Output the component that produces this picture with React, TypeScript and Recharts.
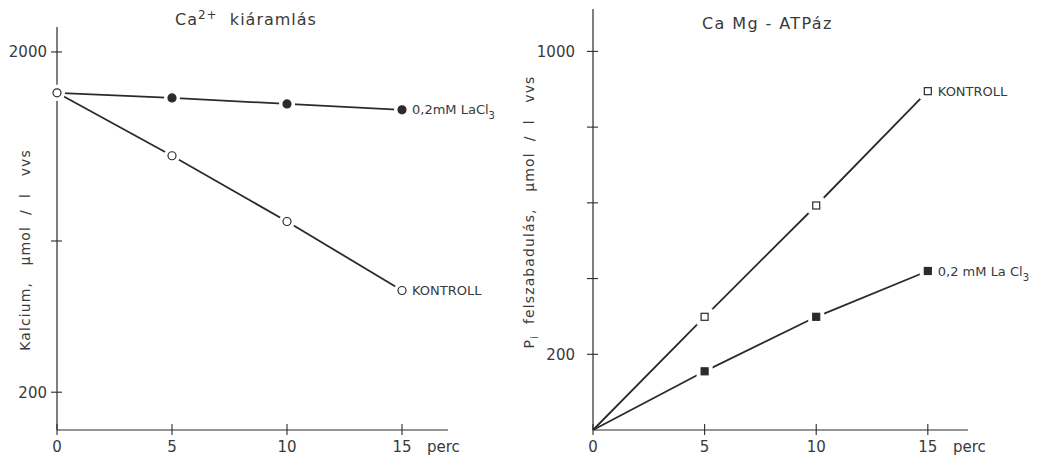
import React from "react";
import { LineChart, Line, XAxis, YAxis, LabelList, Label } from "recharts";

const minutes = [0, 5, 10, 15];
const caLaCl3 = [1784, 1757, 1725, 1694];
const caKontroll = [1784, 1451, 1103, 738];
const atpKontroll = [0, 299, 593, 895];
const atpLaCl3 = [0, 155, 299, 420];

const xTicks = [0, 5, 10, 15];
const caTicks = [200, 1000, 2000];
const caTickLabels: Record<number, string> = { 200: "200", 1000: "", 2000: "2000" };
const atpTicks = [200, 400, 600, 800, 1000];
const atpTickLabels: Record<number, string> = { 200: "200", 1000: "1000" };

const INK = "#2b2b2b";
const TEXT = "#3a3a3a";
const FONT = "'DejaVu Sans', sans-serif";

const caData = minutes.map((m, i) => ({ m, lacl3: caLaCl3[i], kontroll: caKontroll[i] }));
const atpData = minutes.map((m, i) => ({ m, kontroll: atpKontroll[i], lacl3: atpLaCl3[i] }));

const X_MARGIN = 11;

function XTick(props: any) {
  const { x, y, payload } = props;
  const axisY = y - X_MARGIN;
  return (
    <g>
      <line x1={x} x2={x} y1={axisY - 6} y2={axisY + 5} stroke={INK} strokeWidth={1.1} />
      <text x={x} y={y} dy="0.75em" textAnchor="middle" fontSize={15} fill={TEXT} fontFamily={FONT}>
        {payload.value}
      </text>
    </g>
  );
}

function makeYTick(labels: Record<number, string>, gap: number) {
  return function YTick(props: any) {
    const { x, y, payload } = props;
    const axisX = x + 2;
    const lbl = labels[payload.value] ?? "";
    return (
      <g>
        <line x1={axisX - 6} x2={axisX + 5} y1={y} y2={y} stroke={INK} strokeWidth={1.1} />
        {lbl && (
          <text x={axisX - gap} y={y} dy="0.36em" textAnchor="end" fontSize={15} fill={TEXT} fontFamily={FONT}>
            {lbl}
          </text>
        )}
      </g>
    );
  };
}

function Marker(props: any) {
  const { cx, cy, index, kind, skipFirst } = props;
  if (cx == null || cy == null) return <g key={`k-${index}`} />;
  if (skipFirst && index === 0) return <g key={`k-${index}`} />;
  const k = index === 0 && kind === "filled" ? "open" : kind;
  return (
    <g key={`k-${index}`}>
      {k === "open" || k === "filled" ? (
        <>
          <circle cx={cx} cy={cy} r={8} fill="#fff" />
          <circle cx={cx} cy={cy} r={4} fill={k === "filled" ? INK : "#fff"} stroke={INK} strokeWidth={1.2} />
        </>
      ) : (
        <>
          <rect x={cx - 8} y={cy - 8} width={16} height={16} fill="#fff" />
          <rect
            x={cx - 3.5}
            y={cy - 3.5}
            width={7}
            height={7}
            fill={k === "square-filled" ? INK : "#fff"}
            stroke={INK}
            strokeWidth={1.2}
          />
        </>
      )}
    </g>
  );
}

function endLabel(last: number, text: React.ReactNode, dx: number) {
  return (p: any) => {
    if (p.index !== last) return null;
    return (
      <text x={p.x + dx} y={p.y} dy="0.36em" fontSize={13} fill={TEXT} fontFamily={FONT}>
        {text}
      </text>
    );
  };
}

function yLabel(cx: number, cy: number, content: React.ReactNode) {
  return () => (
    <text
      x={cx}
      y={cy}
      transform={`rotate(-90, ${cx}, ${cy})`}
      textAnchor="middle"
      fontSize={14}
      letterSpacing={1.1}
      fill={TEXT}
      fontFamily={FONT}
      style={{ whiteSpace: "pre" }}
    >
      {content}
    </text>
  );
}

function percLabel(offset: number) {
  return (p: any) => {
    const vb = p.viewBox;
    return (
      <text x={vb.x + vb.width + offset} y={vb.y + X_MARGIN} dy="0.75em" fontSize={15} fill={TEXT} fontFamily={FONT}>
        perc
      </text>
    );
  };
}

export default function App() {
  return (
    <div style={{ position: "absolute", left: 0, top: 0, width: 1051, height: 462, background: "#fff", fontFamily: FONT }}>
      <div style={{ position: "absolute", left: 175, top: 8, fontSize: 16, color: TEXT, letterSpacing: 1, whiteSpace: "pre" }}>
        Ca<sup style={{ fontSize: 12 }}>2+</sup>  kiáramlás
      </div>
      <div style={{ position: "absolute", left: 702, top: 14, fontSize: 16, color: TEXT, letterSpacing: 1.4, whiteSpace: "pre" }}>
        Ca Mg - ATPáz
      </div>

      <div style={{ position: "absolute", left: 0, top: 0 }}>
        <LineChart width={520} height={462} data={caData} margin={{ left: 0, right: 72, top: 27, bottom: 0 }}>
          <XAxis
            dataKey="m"
            type="number"
            domain={[0, 17]}
            ticks={xTicks}
            tickSize={0}
            tickMargin={X_MARGIN}
            tick={<XTick />}
            axisLine={{ stroke: INK, strokeWidth: 1.2 }}
            tickLine={false}
            height={32}
          >
            <Label content={percLabel(-21)} />
          </XAxis>
          <YAxis
            type="number"
            domain={[0, 2132]}
            ticks={caTicks}
            tickSize={0}
            tickMargin={2}
            tick={makeYTick(caTickLabels, 10)}
            axisLine={{ stroke: INK, strokeWidth: 1.2 }}
            tickLine={false}
            width={57}
          >
            <Label
              content={yLabel(30, 250, <tspan>{"Kalcium,   μmol  /  l   vvs"}</tspan>)}
            />
          </YAxis>
          <Line
            dataKey="lacl3"
            stroke={INK}
            strokeWidth={1.8}
            isAnimationActive={false}
            dot={(p: any) => <Marker {...p} kind="filled" />}
            activeDot={false}
          >
            <LabelList
              dataKey="lacl3"
              content={endLabel(
                3,
                <>
                  <tspan>0,2mM LaCl</tspan>
                  <tspan dy={5} fontSize={10}>3</tspan>
                </>,
                10
              )}
            />
          </Line>
          <Line
            dataKey="kontroll"
            stroke={INK}
            strokeWidth={1.8}
            isAnimationActive={false}
            dot={(p: any) => <Marker {...p} kind="open" />}
            activeDot={false}
          >
            <LabelList dataKey="kontroll" content={endLabel(3, "KONTROLL", 10)} />
          </Line>
        </LineChart>
      </div>

      <div style={{ position: "absolute", left: 520, top: 0 }}>
        <LineChart width={531} height={462} data={atpData} margin={{ left: 0, right: 83, top: 9, bottom: 0 }}>
          <XAxis
            dataKey="m"
            type="number"
            domain={[0, 16.8]}
            ticks={xTicks}
            tickSize={0}
            tickMargin={X_MARGIN}
            tick={<XTick />}
            axisLine={{ stroke: INK, strokeWidth: 1.2 }}
            tickLine={false}
            height={32}
          >
            <Label content={percLabel(-15)} />
          </XAxis>
          <YAxis
            type="number"
            domain={[0, 1112]}
            ticks={atpTicks}
            tickSize={0}
            tickMargin={2}
            tick={makeYTick(atpTickLabels, 18)}
            axisLine={{ stroke: INK, strokeWidth: 1.2 }}
            tickLine={false}
            width={73}
          >
            <Label
              content={yLabel(
                14,
                212,
                <>
                  <tspan>P</tspan>
                  <tspan dy={4} fontSize={10}>i</tspan>
                  <tspan dy={-4}>{"  felszabadulás,   μmol  /  l   vvs"}</tspan>
                </>
              )}
            />
          </YAxis>
          <Line
            dataKey="kontroll"
            stroke={INK}
            strokeWidth={1.8}
            isAnimationActive={false}
            dot={(p: any) => <Marker {...p} kind="square-open" skipFirst />}
            activeDot={false}
          >
            <LabelList dataKey="kontroll" content={endLabel(3, "KONTROLL", 10)} />
          </Line>
          <Line
            dataKey="lacl3"
            stroke={INK}
            strokeWidth={1.8}
            isAnimationActive={false}
            dot={(p: any) => <Marker {...p} kind="square-filled" skipFirst />}
            activeDot={false}
          >
            <LabelList
              dataKey="lacl3"
              content={endLabel(
                3,
                <>
                  <tspan>0,2 mM La Cl</tspan>
                  <tspan dy={5} fontSize={10}>3</tspan>
                </>,
                10
              )}
            />
          </Line>
        </LineChart>
      </div>
    </div>
  );
}
